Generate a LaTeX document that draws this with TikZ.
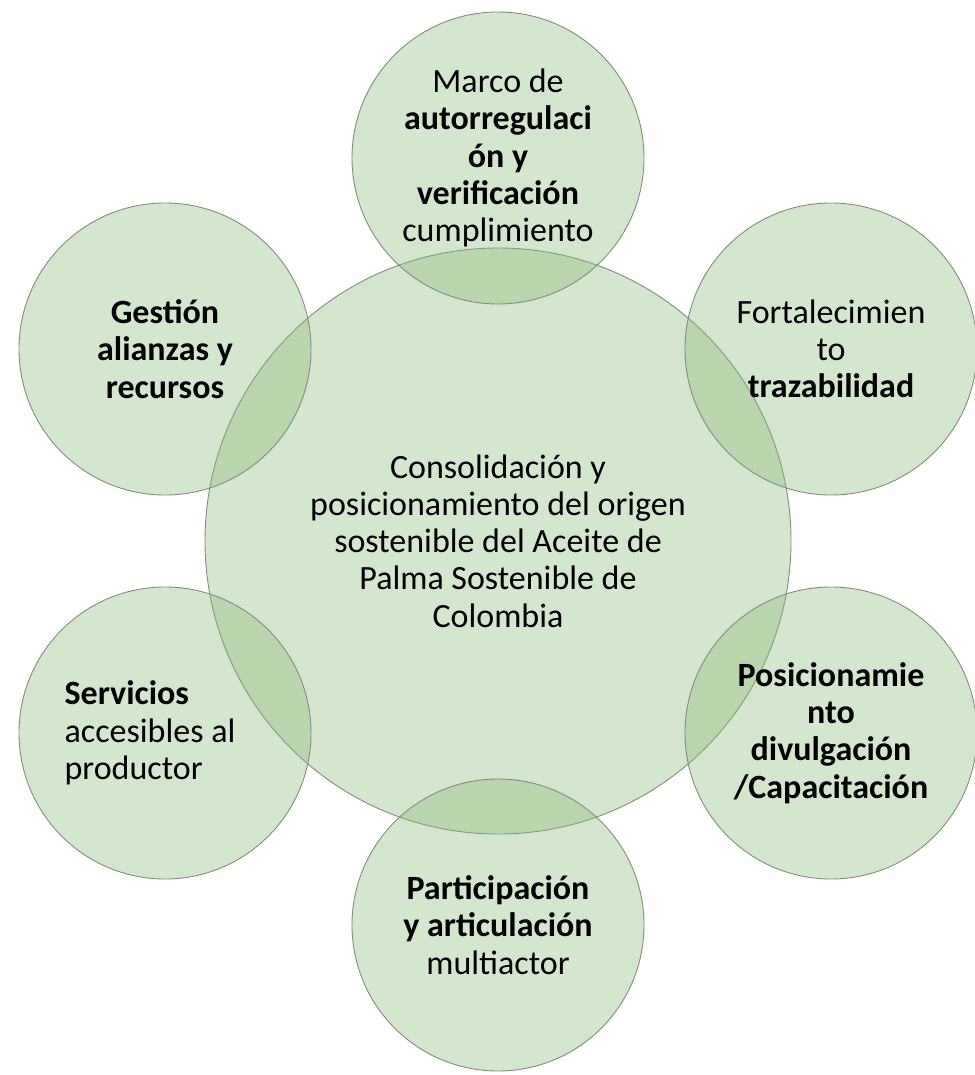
\documentclass[tikz,border=0pt]{standalone}
\usepackage{fontspec}
\setmainfont{Carlito}
\definecolor{vfill}{RGB}{135,184,115}
\definecolor{vline}{RGB}{128,142,122}
\begin{document}
\begin{tikzpicture}[x=1pt,y=-1pt,
  ring/.style={circle,draw=vline,line width=0.9pt,fill=vfill,fill opacity=0.35,inner sep=0pt},
  big/.style={ring,minimum size=586pt},
  sat/.style={ring,minimum size=292pt},
  lbl/.style={align=center,inner sep=0pt,text opacity=1,font=\fontsize{34pt}{37.3pt}\selectfont}]
\useasboundingbox (0,0) rectangle (974,1075);
\node[big] (cC) at (498,541) {};
\node[sat] (cT)  at (498,158) {};
\node[sat] (cTR) at (831,349) {};
\node[sat] (cBR) at (831,733) {};
\node[sat] (cB)  at (498,925) {};
\node[sat] (cBL) at (165,733) {};
\node[sat] (cTL) at (165,349) {};
\node[lbl] (tC) at (cC.center) {Consolidación y\\posicionamiento del origen\\sostenible del Aceite de\\Palma Sostenible de\\Colombia};
\node[lbl] (tT) at (cT.center) {Marco de\\\textbf{autorregulaci}\\\textbf{ón y}\\\textbf{verificación}\\cumplimiento};
\node[lbl] (tTR) at (cTR.center) {Fortalecimien\\to\\\textbf{trazabilidad}};
\node[lbl,font=\fontsize{34pt}{37.3pt}\selectfont\bfseries] (tBR) at (cBR.center) {Posicionamie\\nto\\divulgación\\/Capacitación};
\node[lbl] (tB) at (cB.center) {\textbf{Participación}\\\textbf{y articulación}\\multiactor};
\node[lbl,align=left] (tBL) at ([xshift=-15pt]cBL.center) {\textbf{Servicios}\\accesibles al\\productor};
\node[lbl,font=\fontsize{34pt}{37.3pt}\selectfont\bfseries] (tTL) at (cTL.center) {Gestión\\alianzas y\\recursos};
\end{tikzpicture}
\end{document}
